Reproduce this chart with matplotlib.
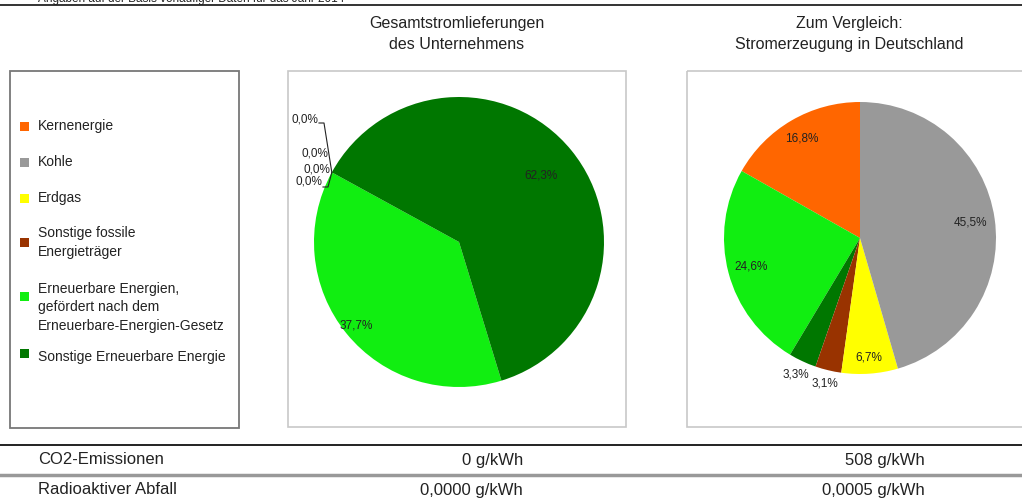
import numpy as np
import matplotlib
matplotlib.use('Agg')
import matplotlib.pyplot as plt
from matplotlib.patches import Rectangle

plt.rcParams['font.family'] = ['Liberation Sans', 'DejaVu Sans']

# data
categories = ['Kernenergie', 'Kohle', 'Erdgas', 'Sonstige fossile\nEnergieträger',
              'Erneuerbare Energien,\ngefördert nach dem\nErneuerbare-Energien-Gesetz',
              'Sonstige Erneuerbare Energie']
colors = ['#ff6600', '#999999', '#ffff00', '#993300', '#11ee11', '#007700']
company = [0.0, 0.0, 0.0, 0.0, 37.7, 62.3]
germany = [16.8, 45.5, 6.7, 3.1, 24.6, 3.3]
titles = ['Gesamtstromlieferungen\ndes Unternehmens',
          'Zum Vergleich:\nStromerzeugung in Deutschland']
row_labels = ['CO2-Emissionen', 'Radioaktiver Abfall']
company_rows = ['0 g/kWh', '0,0000 g/kWh']
germany_rows = ['508 g/kWh', '0,0005 g/kWh']
note = 'Angaben auf der Basis vorläufiger Daten für das Jahr 2014'

# layout (pixels)
W, H = 1022, 499
order = [0, 4, 5, 3, 2, 1]   # drawing order, counter clockwise
company_dist = [1.0, 1.0, 1.0, 1.0, 0.91, 0.73]
germany_dist = [0.85, 0.82, 0.88, 1.10, 0.83, 1.11]
legend_y = [126, 162, 198, 242, 296, 353]
text_y = [126, 162, 198, 233, 289, 357]
txt = '#222222'

fig = plt.figure(figsize=(W / 100, H / 100), dpi=100)
bg = fig.add_axes([0, 0, 1, 1])
bg.set_xlim(0, W)
bg.set_ylim(H, 0)
bg.axis('off')

# top note (cut off like in the original) and lines
bg.text(38, 2, note, fontsize=8.5, color=txt, va='baseline')
bg.plot([0, W], [5, 5], color='#111111', lw=1.2)
bg.plot([0, W], [445, 445], color='#111111', lw=1.3)
bg.plot([0, W], [475, 475], color='#999999', lw=2.5)

# boxes
bg.add_patch(Rectangle((10, 71), 229, 357, fill=False, ec='#777777', lw=1.3))
bg.add_patch(Rectangle((288, 71), 338, 356, fill=False, ec='#c8c8c8', lw=1.2))
bg.add_patch(Rectangle((687, 71), 345, 356, fill=False, ec='#c8c8c8', lw=1.2))

# legend
for i, cat in enumerate(categories):
    bg.add_patch(Rectangle((20, legend_y[i] - 4.5), 9, 9, color=colors[i], lw=0))
    for j, ln in enumerate(cat.split('\n')):
        sp = 18.5 if i != 3 else 19
        bg.text(38, text_y[i] + j * sp, ln, fontsize=10, color=txt, va='center')

# titles
bg.text(457, 34, titles[0], fontsize=11.5, color=txt, ha='center', va='center', linespacing=1.55)
bg.text(849, 34, titles[1], fontsize=11.5, color=txt, ha='center', va='center', linespacing=1.55)

# bottom rows
for k in range(2):
    y = [460, 490][k]
    bg.text(38, y, row_labels[k], fontsize=12, color=txt, va='center')
    bg.text(523, y, company_rows[k], fontsize=12, color=txt, va='center', ha='right')
    bg.text(925, y, germany_rows[k], fontsize=12, color=txt, va='center', ha='right')


def fmt(v):
    return f'{v:.1f}%'.replace('.', ',')


def draw_pie(cx, cy, r, values, dist, start):
    ax = fig.add_axes([(cx - r) / W, (H - cy - r) / H, 2 * r / W, 2 * r / H])
    vals = [values[i] for i in order]
    cols = [colors[i] for i in order]
    wedges, _ = ax.pie(vals, colors=cols, startangle=start, counterclock=True,
                       wedgeprops=dict(linewidth=0))
    for w, i in zip(wedges, order):
        if values[i] <= 0:
            continue
        a = np.deg2rad((w.theta1 + w.theta2) / 2)
        ax.text(dist[i] * np.cos(a), dist[i] * np.sin(a), fmt(values[i]),
                fontsize=8.5, color=txt, ha='center', va='center')
    ax.set_xlim(-1.2, 1.2)
    ax.set_ylim(-1.2, 1.2)
    ax.set_position([(cx - 1.2 * r) / W, (H - cy - 1.2 * r) / H, 2.4 * r / W, 2.4 * r / H])
    return ax


ax1 = draw_pie(459, 242, 145, company, company_dist, 151.3)
ax2 = draw_pie(860, 238, 136, germany, germany_dist, 90)

# zero labels in the company pie
zero_pos = [(305, 120), (315, 153), (317, 170), (309, 182)]
r1 = 145
edge = np.deg2rad(151.3)
ex, ey = np.cos(edge), np.sin(edge)
for (px, py) in zero_pos:
    ax1.text((px - 459) / r1, (242 - py) / r1, fmt(0.0), fontsize=8.5, color=txt,
             ha='center', va='center')
for (px, py), dy in [(zero_pos[0], 3), (zero_pos[3], 5)]:
    x0 = (px + 14 - 459) / r1
    x1 = (px + 19 - 459) / r1
    y0 = (242 - py - dy) / r1
    ax1.plot([x0, x1, ex], [y0, y0, ey], color='#222222', lw=0.8)

fig.savefig('out.png', dpi=100)
